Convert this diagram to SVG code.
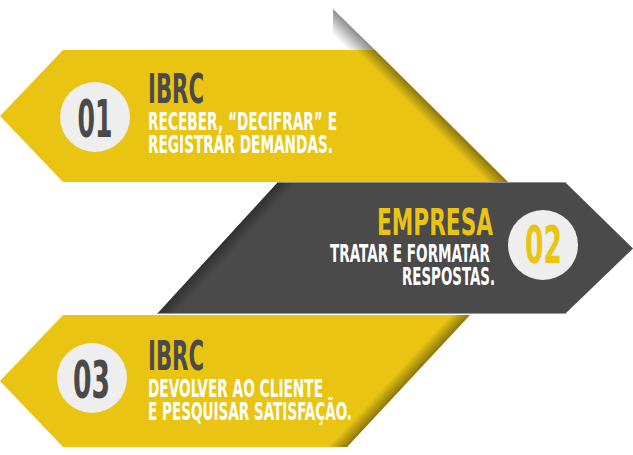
<svg xmlns="http://www.w3.org/2000/svg" width="633" height="455" viewBox="0 0 633 455">
<defs>
<style>
.yel{fill:#E9C413}
.drk{fill:#4A4A4A}
.circ{fill:#EEEEEE}
.t{font-family:"DejaVu Sans Condensed","DejaVu Sans","Liberation Sans",sans-serif;font-weight:bold;lengthAdjust:spacingAndGlyphs}
.head{font-size:41px;fill:#4A4A4A}
.line{font-size:25px;fill:#FFFFFF}
.num{font-size:52px;text-anchor:middle}
.hemp{font-size:38px;fill:#E9C413;text-anchor:end}
.lr{text-anchor:end}
</style>
<linearGradient id="fold" gradientUnits="userSpaceOnUse" x1="354" y1="29.5" x2="341" y2="42.5">
<stop offset="0" stop-color="#8c8c8c"/>
<stop offset="1" stop-color="#ffffff"/>
</linearGradient>
<linearGradient id="sh1" gradientUnits="userSpaceOnUse" x1="441.5" y1="116" x2="431.5" y2="126">
<stop offset="0" stop-color="#000" stop-opacity="0.4"/>
<stop offset="1" stop-color="#000" stop-opacity="0"/>
</linearGradient>
<linearGradient id="sh2" gradientUnits="userSpaceOnUse" x1="217.5" y1="248" x2="227.8" y2="257.5">
<stop offset="0" stop-color="#000" stop-opacity="0.35"/>
<stop offset="1" stop-color="#000" stop-opacity="0"/>
</linearGradient>
<linearGradient id="sh3" gradientUnits="userSpaceOnUse" x1="408.5" y1="381" x2="398.3" y2="371.5">
<stop offset="0" stop-color="#000" stop-opacity="0.4"/>
<stop offset="1" stop-color="#000" stop-opacity="0"/>
</linearGradient>
</defs>

<g id="step-01">
<polygon points="333,9 375,50 333,50" fill="url(#fold)"/>
<polygon class="yel" points="63,50 375,50 508,182 63,182 0,116"/>
<polygon points="63,50 375,50 508,182 63,182 0,116" fill="url(#sh1)"/>
<circle class="circ" cx="95" cy="117" r="35"/>
<text class="t num" x="95" y="137" fill="#4A4A4A" textLength="35" lengthAdjust="spacingAndGlyphs">01</text>
<text class="t head" x="148" y="103" textLength="56" lengthAdjust="spacingAndGlyphs">IBRC</text>
<text class="t line" x="148" y="130" textLength="189" lengthAdjust="spacingAndGlyphs">RECEBER, “DECIFRAR” E</text>
<text class="t line" x="148" y="153" textLength="185" lengthAdjust="spacingAndGlyphs">REGISTRAR DEMANDAS.</text>
</g>

<g id="step-02">
<polygon class="drk" points="278,182 565,182 633,248.5 565,314 157,314"/>
<polygon points="278,182 565,182 633,248.5 565,314 157,314" fill="url(#sh2)"/>
<line x1="278" y1="182.5" x2="565" y2="182.5" stroke="#8f8f8f" stroke-width="1"/>
<line x1="157" y1="313.5" x2="565" y2="313.5" stroke="#9a9a9a" stroke-width="1"/>
<circle class="circ" cx="543" cy="245" r="35"/>
<text class="t num" x="543.5" y="263" fill="#E9C413" textLength="37" lengthAdjust="spacingAndGlyphs">02</text>
<text class="t hemp" x="493" y="235" textLength="116" lengthAdjust="spacingAndGlyphs">EMPRESA</text>
<text class="t line lr" x="490" y="262" textLength="160" lengthAdjust="spacingAndGlyphs">TRATAR E FORMATAR</text>
<text class="t line lr" x="495" y="285" textLength="93" lengthAdjust="spacingAndGlyphs">RESPOSTAS.</text>
</g>

<g id="step-03">
<polygon class="yel" points="63,315 470,315 347,447 63,447 0,381"/>
<polygon points="63,315 470,315 347,447 63,447 0,381" fill="url(#sh3)"/>
<circle class="circ" cx="92" cy="378" r="35"/>
<text class="t num" x="91.5" y="398" fill="#4A4A4A" textLength="37" lengthAdjust="spacingAndGlyphs">03</text>
<text class="t head" x="148" y="370" textLength="56" lengthAdjust="spacingAndGlyphs">IBRC</text>
<text class="t line" x="148" y="397" textLength="175" lengthAdjust="spacingAndGlyphs">DEVOLVER AO CLIENTE</text>
<text class="t line" x="148" y="420" textLength="204" lengthAdjust="spacingAndGlyphs">E PESQUISAR SATISFAÇÃO.</text>
</g>
</svg>
